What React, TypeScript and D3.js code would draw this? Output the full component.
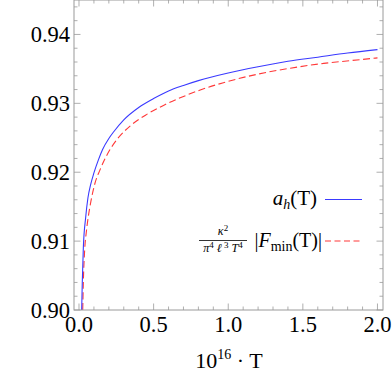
import React, { useEffect, useRef } from 'react';
import * as d3 from 'd3';

// values: [10^16 T, value]
const ahCurve: [number, number][] = [
  [0.018, 0.9], [0.022, 0.904], [0.029, 0.909], [0.045, 0.9135], [0.06, 0.9163],
  [0.078, 0.9182], [0.1, 0.9199], [0.13, 0.9218], [0.158, 0.9233], [0.2, 0.9249],
  [0.23, 0.9258], [0.3, 0.9276], [0.4, 0.9294], [0.5, 0.9307], [0.6, 0.9318],
  [0.7, 0.9326], [0.8, 0.9333], [1.0, 0.9344], [1.2, 0.9353], [1.4, 0.9361],
  [1.6, 0.9367], [1.8, 0.9373], [2.0, 0.9378],
];
const fminCurve: [number, number][] = [
  [0.025, 0.9], [0.029, 0.904], [0.038, 0.9087], [0.05, 0.9115], [0.062, 0.9135],
  [0.08, 0.9158], [0.107, 0.9184], [0.14, 0.9203], [0.2, 0.923], [0.26, 0.9249],
  [0.342, 0.9267], [0.454, 0.9284], [0.566, 0.9297], [0.678, 0.9308], [0.808, 0.9319],
  [0.968, 0.933], [1.19, 0.9342], [1.416, 0.9351], [1.64, 0.9358], [1.82, 0.9362],
  [2.0, 0.9366],
];
const xMajor = [0, 0.5, 1.0, 1.5, 2.0];
const yMajor = [0.9, 0.91, 0.92, 0.93, 0.94];

const FONT = 'Liberation Serif, Times New Roman, DejaVu Serif, serif';

const App = () => {
  const svgRef = useRef<SVGSVGElement>(null);
  const width = 392;
  const height = 373;

  useEffect(() => {
    const svg = d3.select(svgRef.current);
    svg.selectAll('*').remove();
    svg.attr('font-family', FONT);

    const left = 74, right = 383, top = 0, bottom = 310;
    const x = d3.scaleLinear().domain([-0.0335, 2.037]).range([left, right]);
    const y = d3.scaleLinear().domain([0.9, 0.945]).range([bottom, top]);

    const frameColor = '#9a9a9a';
    const blue = '#3a3aff';
    const red = '#ff3838';

    svg.append('defs').append('clipPath').attr('id', 'plot-clip')
      .append('rect').attr('x', left).attr('y', top)
      .attr('width', right - left).attr('height', bottom - top);

    // ticks, major every 0.5 / 0.01, minor every 0.1 / 0.002
    const xMinor = d3.range(0, 21).map(i => i / 10);
    const yMinor = d3.range(0, 23).map(i => +(0.9 + i * 0.002).toFixed(3));
    const isMajorX = (v: number) => xMajor.some(m => Math.abs(m - v) < 1e-6);
    const isMajorY = (v: number) => yMajor.some(m => Math.abs(m - v) < 1e-6);

    const ticks = svg.append('g').attr('stroke', frameColor).attr('stroke-width', 0.8);
    xMinor.forEach(v => {
      const len = isMajorX(v) ? 6.5 : 3.5;
      ticks.append('line').attr('x1', x(v)).attr('x2', x(v)).attr('y1', bottom).attr('y2', bottom - len);
      ticks.append('line').attr('x1', x(v)).attr('x2', x(v)).attr('y1', top).attr('y2', top + len);
    });
    yMinor.forEach(v => {
      const len = isMajorY(v) ? 6.5 : 3.5;
      ticks.append('line').attr('x1', left).attr('x2', left + len).attr('y1', y(v)).attr('y2', y(v));
      ticks.append('line').attr('x1', right).attr('x2', right - len).attr('y1', y(v)).attr('y2', y(v));
    });

    // curves
    const line = d3.line<[number, number]>()
      .x(d => x(d[0]))
      .y(d => y(d[1]))
      .curve(d3.curveMonotoneX);

    const plot = svg.append('g').attr('clip-path', 'url(#plot-clip)');
    plot.append('path').datum(fminCurve)
      .attr('d', line).attr('fill', 'none')
      .attr('stroke', red).attr('stroke-width', 1.1)
      .attr('stroke-dasharray', '7,3.5');
    plot.append('path').datum(ahCurve)
      .attr('d', line).attr('fill', 'none')
      .attr('stroke', blue).attr('stroke-width', 1.1);

    // frame
    svg.append('rect')
      .attr('x', left).attr('y', top)
      .attr('width', right - left).attr('height', bottom - top)
      .attr('fill', 'none').attr('stroke', frameColor).attr('stroke-width', 1);

    // tick labels
    svg.append('g').selectAll('text').data(xMajor).enter().append('text')
      .attr('x', d => x(d)).attr('y', 331.5)
      .attr('text-anchor', 'middle')
      .attr('font-size', 22.5)
      .text(d => d.toFixed(1));

    svg.append('g').selectAll('text').data(yMajor).enter().append('text')
      .attr('x', 70).attr('y', d => y(d)).attr('dy', '0.35em')
      .attr('text-anchor', 'end')
      .attr('font-size', 22.5)
      .text(d => d.toFixed(2));

    // axis title
    const xt = svg.append('text')
      .attr('x', 229).attr('y', 367.5).attr('text-anchor', 'middle')
      .attr('font-size', 22);
    xt.append('tspan').text('10');
    xt.append('tspan').attr('dy', -9).attr('font-size', 14).text('16');
    xt.append('tspan').attr('dy', 9).text(' · T');

    // legend
    const leg = svg.append('g');
    const la = leg.append('text').attr('x', 317).attr('y', 205).attr('text-anchor', 'end')
      .attr('font-size', 21);
    la.append('tspan').attr('font-style', 'italic').text('a');
    la.append('tspan').attr('font-style', 'italic').attr('font-size', 14).attr('dy', 4).text('h');
    la.append('tspan').attr('dy', -4).text('(T)');
    leg.append('line').attr('x1', 325).attr('x2', 362).attr('y1', 199.5).attr('y2', 199.5)
      .attr('stroke', blue).attr('stroke-width', 1.1);

    // fraction kappa^2 / (pi^4 l^3 T^4)
    const num = leg.append('text').attr('x', 223).attr('y', 235).attr('text-anchor', 'middle')
      .attr('font-size', 12).attr('font-style', 'italic');
    num.append('tspan').text('κ');
    num.append('tspan').attr('dy', -4).attr('font-size', 9).attr('font-style', 'normal').text('2');
    leg.append('line').attr('x1', 199).attr('x2', 247).attr('y1', 240.5).attr('y2', 240.5)
      .attr('stroke', '#000').attr('stroke-width', 0.8);
    const den = leg.append('text').attr('x', 223).attr('y', 252).attr('text-anchor', 'middle')
      .attr('font-size', 12).attr('font-style', 'italic');
    den.append('tspan').text('π');
    den.append('tspan').attr('dy', -4).attr('font-size', 9).attr('font-style', 'normal').text('4');
    den.append('tspan').attr('dy', 4).text(' ℓ');
    den.append('tspan').attr('dy', -4).attr('font-size', 9).attr('font-style', 'normal').text(' 3');
    den.append('tspan').attr('dy', 4).text(' T');
    den.append('tspan').attr('dy', -4).attr('font-size', 9).attr('font-style', 'normal').text('4');

    const fm = leg.append('text').attr('x', 322).attr('y', 247).attr('text-anchor', 'end')
      .attr('font-size', 20);
    fm.append('tspan').text('|');
    fm.append('tspan').attr('font-style', 'italic').text('F');
    fm.append('tspan').attr('dy', 4).attr('font-size', 14).text('min');
    fm.append('tspan').attr('dy', -4).text('(T)|');
    leg.append('line').attr('x1', 325).attr('x2', 362).attr('y1', 241).attr('y2', 241)
      .attr('stroke', red).attr('stroke-width', 1.1).attr('stroke-dasharray', '6,3.5');
  }, []);

  return (
    <div style={{ position: 'absolute', left: 0, top: 0 }}>
      <svg ref={svgRef} width={width} height={height} style={{ display: 'block', background: '#fff' }}></svg>
    </div>
  );
};

export default App;
